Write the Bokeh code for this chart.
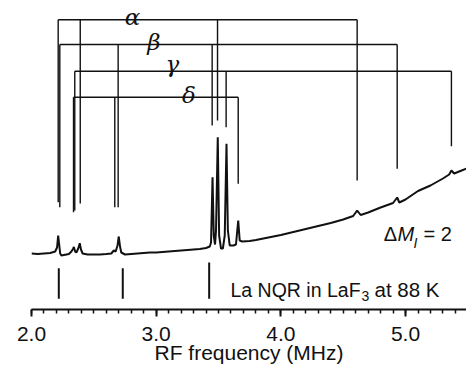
from bokeh.plotting import figure
from bokeh.models import Range1d, FixedTicker, PrintfTickFormatter
from bokeh.core.properties import value
from bokeh.embed import file_html
from bokeh.resources import INLINE

# ---------------- data ----------------
# spectrum (frequency in MHz, signal in arbitrary units)
freq = [2.00, 2.05, 2.10, 2.15, 2.19, 2.205, 2.214, 2.222, 2.23, 2.24, 2.26, 2.28, 2.30,
        2.32, 2.335, 2.34, 2.35, 2.36, 2.375, 2.387, 2.397, 2.41, 2.45, 2.50, 2.55, 2.60,
        2.64, 2.66, 2.675, 2.69, 2.70, 2.71, 2.72, 2.75, 2.80, 2.85, 2.90, 2.95, 3.00,
        3.05, 3.10, 3.15, 3.20, 3.25, 3.30, 3.35, 3.40, 3.43, 3.44, 3.452, 3.462, 3.472,
        3.48, 3.494, 3.505, 3.52, 3.535, 3.55, 3.564, 3.575, 3.59, 3.62, 3.64, 3.658,
        3.67, 3.69, 3.75, 3.80, 3.90, 4.00, 4.10, 4.20, 4.30, 4.40, 4.50, 4.58, 4.612,
        4.64, 4.70, 4.80, 4.90, 4.933, 4.95, 5.00, 5.10, 5.20, 5.30, 5.35, 5.368, 5.39,
        5.45, 5.49]
signal = [0.0, -0.5, 0.0, 0.5, 2.0, 6.0, 18.0, 9.0, 0.0, -2.0, -1.5, -1.0, -0.5,
          2.0, 5.0, 6.5, 2.0, 1.0, 5.0, 10.3, 4.0, 0.0, -1.0, -1.0, -1.0, -0.5,
          0.0, 3.0, 2.0, 8.0, 17.0, 7.0, 1.0, -1.0, -0.5, 0.0, 0.5, 1.0, 1.0,
          1.5, 2.0, 2.5, 3.0, 3.5, 4.0, 4.5, 5.5, 7.0, 11.0, 76.3, 18.0, 9.0,
          23.0, 116.3, 18.0, 5.0, 5.0, 18.0, 109.7, 23.0, 8.0, 8.0, 9.0, 33.0,
          13.0, 12.0, 12.5, 13.5, 16.0, 18.5, 21.5, 24.5, 27.5, 30.5, 34.0, 37.5, 43.0,
          38.5, 41.0, 46.0, 50.5, 56.0, 51.0, 54.0, 62.5, 68.0, 75.0, 79.0, 83.0, 80.0,
          83.0, 85.0]

# site assignments: leg frequencies (MHz), bracket height and leg lower ends
sites = ["\u03b1", "\u03b2", "\u03b3", "\u03b4"]
alpha_freqs = [2.214, 2.391, 3.492, 4.612]
beta_freqs = [2.227, 2.695, 3.449, 4.933]
gamma_freqs = [2.347, 3.561, 5.368]
delta_freqs = [2.337, 2.668, 3.658]
site_freqs = [alpha_freqs, beta_freqs, gamma_freqs, delta_freqs]
bracket_levels = [233.7, 209.0, 182.3, 156.3]
alpha_ends = [51.3, 50.0, 133.0, 73.0]
beta_ends = [46.3, 46.3, 128.0, 84.7]
gamma_ends = [43.0, 126.3, 107.3]
delta_ends = [41.3, 46.3, 69.7]
site_ends = [alpha_ends, beta_ends, gamma_ends, delta_ends]
label_freqs = [2.81, 2.981, 3.129, 3.262]
label_levels = [237.0, 212.0, 190.0, 159.0]

# known La NQR lines in LaF3 at 88 K
ref_lines = [2.219, 2.732, 3.425]
ref_tops = [-14.7, -14.7, -9.0]
ref_bottom = -45.3

major_ticks = [2.0, 3.0, 4.0, 5.0]
minor_ticks = [round(2.0 + 0.1 * i, 1) for i in range(35)]

# ---------------- figure ----------------
p = figure(width=466, height=377, output_backend="svg", toolbar_location=None,
           x_range=Range1d(2.0, 5.489), y_range=Range1d(-56, 253),
           y_axis_location=None, min_border_left=31, min_border_right=0,
           min_border_top=0, min_border_bottom=68)
p.outline_line_color = None
p.xgrid.visible = False
p.ygrid.visible = False
p.background_fill_color = "white"
p.border_fill_color = "white"

ink = "#111111"

# spectrum
p.line(freq, signal, line_color=ink, line_width=2.0)

# brackets
for fs, ends, lvl in zip(site_freqs, site_ends, bracket_levels):
    p.segment(x0=[min(fs)], y0=[lvl], x1=[max(fs)], y1=[lvl], line_color=ink, line_width=1.4)
    p.segment(x0=fs, y0=[lvl] * len(fs), x1=fs, y1=ends, line_color=ink, line_width=1.4)

p.text(x=label_freqs, y=label_levels, text=sites, text_font=value("DejaVu Serif"),
       text_font_style="italic", text_font_size="23px", text_align="center",
       text_baseline="alphabetic", text_color=ink)

# reference lines
p.segment(x0=ref_lines, y0=ref_tops, x1=ref_lines, y1=[ref_bottom] * len(ref_lines),
          line_color=ink, line_width=2.0)

sans = value("Liberation Sans")
# "La NQR in LaF3 at 88 K"
p.text(x=[3.596], y=[-36.3], text=["La NQR in LaF"], text_font=sans, text_font_size="19.5px",
       text_baseline="alphabetic", text_color=ink)
p.text(x=[4.647], y=[-42.0], text=["3"], text_font=sans, text_font_size="14px",
       text_baseline="alphabetic", text_color=ink)
p.text(x=[4.751], y=[-36.3], text=["at 88 K"], text_font=sans, text_font_size="20.5px",
       text_baseline="alphabetic", text_color=ink)

# "ΔM_I = 2"
p.text(x=[4.826], y=[19.7], text=["\u0394"], text_font=sans, text_font_size="20px",
       text_baseline="alphabetic", text_color=ink)
p.text(x=[4.936], y=[19.7], text=["M"], text_font=sans, text_font_size="20px",
       text_font_style="italic", text_baseline="alphabetic", text_color=ink)
p.text(x=[5.064], y=[11.0], text=["I"], text_font=sans, text_font_size="14px",
       text_font_style="italic", text_baseline="alphabetic", text_color=ink)
p.text(x=[5.144], y=[19.7], text=["= 2"], text_font=sans, text_font_size="20px",
       text_baseline="alphabetic", text_color=ink)

# axis
ax = p.xaxis[0]
ax.ticker = FixedTicker(ticks=major_ticks, minor_ticks=minor_ticks)
ax.formatter = PrintfTickFormatter(format="%.1f")
ax.axis_label = "RF frequency (MHz)"
ax.axis_label_text_font = "Liberation Sans"
ax.axis_label_text_font_style = "normal"
ax.axis_label_text_font_size = "21px"
ax.axis_label_text_color = ink
ax.axis_label_standoff = -3
ax.major_label_text_font = "Liberation Sans"
ax.major_label_text_font_size = "21px"
ax.major_label_text_color = ink
ax.major_label_standoff = 10
ax.axis_line_width = 2
ax.axis_line_color = ink
ax.major_tick_line_color = ink
ax.major_tick_line_width = 2
ax.major_tick_out = 7
ax.major_tick_in = 0
ax.minor_tick_line_color = ink
ax.minor_tick_line_width = 1.5
ax.minor_tick_out = 4
ax.minor_tick_in = 0

open("out.html", "w").write(file_html(p, INLINE))
